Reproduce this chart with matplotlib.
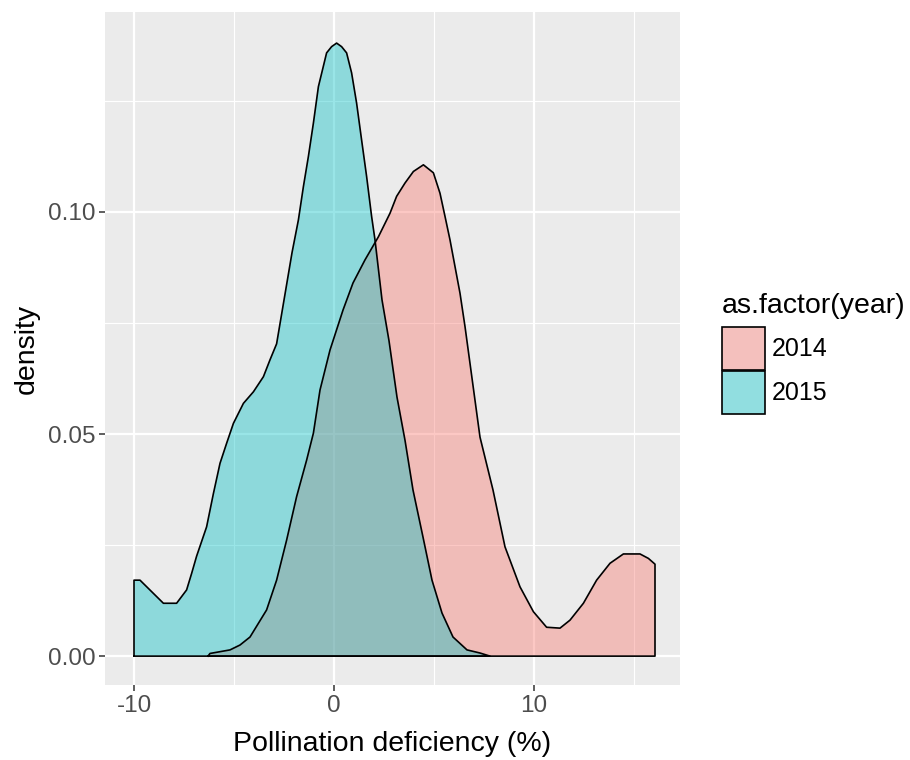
import matplotlib
matplotlib.use("Agg")
import matplotlib.pyplot as plt
from matplotlib.patches import Patch
import matplotlib.colors as mcolors
import numpy as np

plt.rcParams['font.family'] = ['Liberation Sans', 'DejaVu Sans']

# Density curves
x_2014 = [-6.3, -6.2, -5.2, -4.7, -4.2, -3.37, -2.87, -2.37, -1.87, -1.37, -1.03, -0.7, -0.2,
          0.45, 0.95, 1.55, 2.22, 2.8, 3.13, 3.55, 3.97, 4.47, 4.97, 5.3, 5.55, 5.8, 6.05, 6.3,
          6.55, 7.3, 7.95, 8.55, 9.3, 9.97, 10.63, 11.3, 11.8, 12.47, 13.13, 13.8, 14.47,
          15.3, 15.72, 16.05]
d_2014 = [0.0, 0.0006, 0.0014, 0.0025, 0.0043, 0.0104, 0.0171, 0.0261, 0.0359, 0.0441, 0.0502, 0.0599, 0.0689,
          0.0779, 0.084, 0.0892, 0.0944, 0.0997, 0.1035, 0.1065, 0.1091, 0.1106, 0.1088, 0.1042, 0.099, 0.0937, 0.0877, 0.0817,
          0.0742, 0.0493, 0.0374, 0.0246, 0.0156, 0.01, 0.0065, 0.0063, 0.0081, 0.0119, 0.0171, 0.0209, 0.023,
          0.023, 0.022, 0.0207]

x_2015 = [-10.0, -9.7, -8.53, -7.87, -7.37, -7.12, -6.87, -6.37, -6.03, -5.7, -5.37, -5.03,
          -4.53, -4.03, -3.53, -3.2, -2.87, -2.1, -1.78, -1.53, -1.28, -1.03, -0.78, -0.37, -0.12,
          0.13, 0.38, 0.63, 0.88, 1.13, 1.38, 1.63, 1.88, 2.05, 2.4, 2.75, 3.15, 3.55, 3.95,
          4.45, 4.9, 5.4, 5.95, 6.65, 7.3, 7.8]
d_2015 = [0.0171, 0.0171, 0.0119, 0.0119, 0.0149, 0.0186, 0.0225, 0.0291, 0.0366, 0.0434, 0.0479, 0.0524,
          0.0569, 0.0595, 0.0629, 0.0667, 0.0703, 0.0908, 0.0982, 0.1057, 0.1125, 0.12, 0.1282, 0.1358, 0.1372,
          0.138, 0.1372, 0.1358, 0.1313, 0.1245, 0.1162, 0.108, 0.099, 0.0937, 0.0802, 0.071, 0.0583, 0.0486, 0.0374,
          0.0268, 0.0171, 0.0097, 0.0043, 0.0014, 0.0007, 0.0]

years = ['2014', '2015']
colors = ['#F8766D', '#00BFC4']
x_ticks = [-10, 0, 10]
y_ticks = [0.00, 0.05, 0.10]
y_tick_labels = ['0.00', '0.05', '0.10']

fig = plt.figure(figsize=(9.1, 7.6), dpi=100)
ax = fig.add_axes([105/910, 75/760, 575/910, 673/760])
ax.set_facecolor('#EBEBEB')

series = [(x_2014, d_2014), (x_2015, d_2015)]
for (xs, ds), c in zip(series, colors):
    xs = np.asarray(xs); ds = np.asarray(ds)
    px = np.r_[xs, xs[-1], xs[0]]
    py = np.r_[ds, 0, 0]
    ax.fill(px, py, facecolor=c, alpha=0.4, edgecolor='none', zorder=3)
    ax.plot(np.r_[xs[0], xs, xs[-1], xs[0]], np.r_[0, ds, 0, 0], color='black', lw=1.2, zorder=4,
            solid_joinstyle='round')

ax.set_xlim(-11.45, 17.3)
ax.set_ylim(-0.0065, 0.145)

ax.set_xticks(x_ticks)
ax.set_xticklabels([str(t) for t in x_ticks])
ax.set_yticks(y_ticks)
ax.set_yticklabels(y_tick_labels)
ax.set_xticks([-5, 5, 15], minor=True)
ax.set_yticks([0.025, 0.075, 0.125], minor=True)
ax.grid(which='major', color='white', lw=1.6, zorder=0)
ax.grid(which='minor', color='white', lw=0.8, zorder=0)
ax.set_axisbelow(True)
for s in ax.spines.values():
    s.set_visible(False)
ax.tick_params(which='major', length=4, width=1.1, color='#333333', labelcolor='#4D4D4D',
               labelsize=17.5, pad=3)
ax.tick_params(which='minor', length=0)

ax.set_xlabel('Pollination deficiency (%)', fontsize=20.5, color='black', labelpad=10)
ax.set_ylabel('density', fontsize=20.5, color='black', labelpad=6)

# legend keys: alpha fill composited over grey95 key background (as ggplot does)
key_bg = np.array(mcolors.to_rgb('#F2F2F2'))
key_cols = [tuple(0.4 * np.array(mcolors.to_rgb(c)) + 0.6 * key_bg) for c in colors]
handles = [Patch(facecolor=kc, edgecolor='black', lw=1.2) for kc in key_cols]
leg = fig.legend(handles, years, title='as.factor(year)', loc='upper left',
                 bbox_to_anchor=(712/910, 1 - 283/760), frameon=False, fontsize=18,
                 title_fontsize=20.5, handlelength=1.7, handleheight=2.25, handletextpad=0.3,
                 labelspacing=0.05, borderaxespad=0, alignment='left')
leg._legend_box.sep = 6

fig.savefig('out.png', dpi=100)
